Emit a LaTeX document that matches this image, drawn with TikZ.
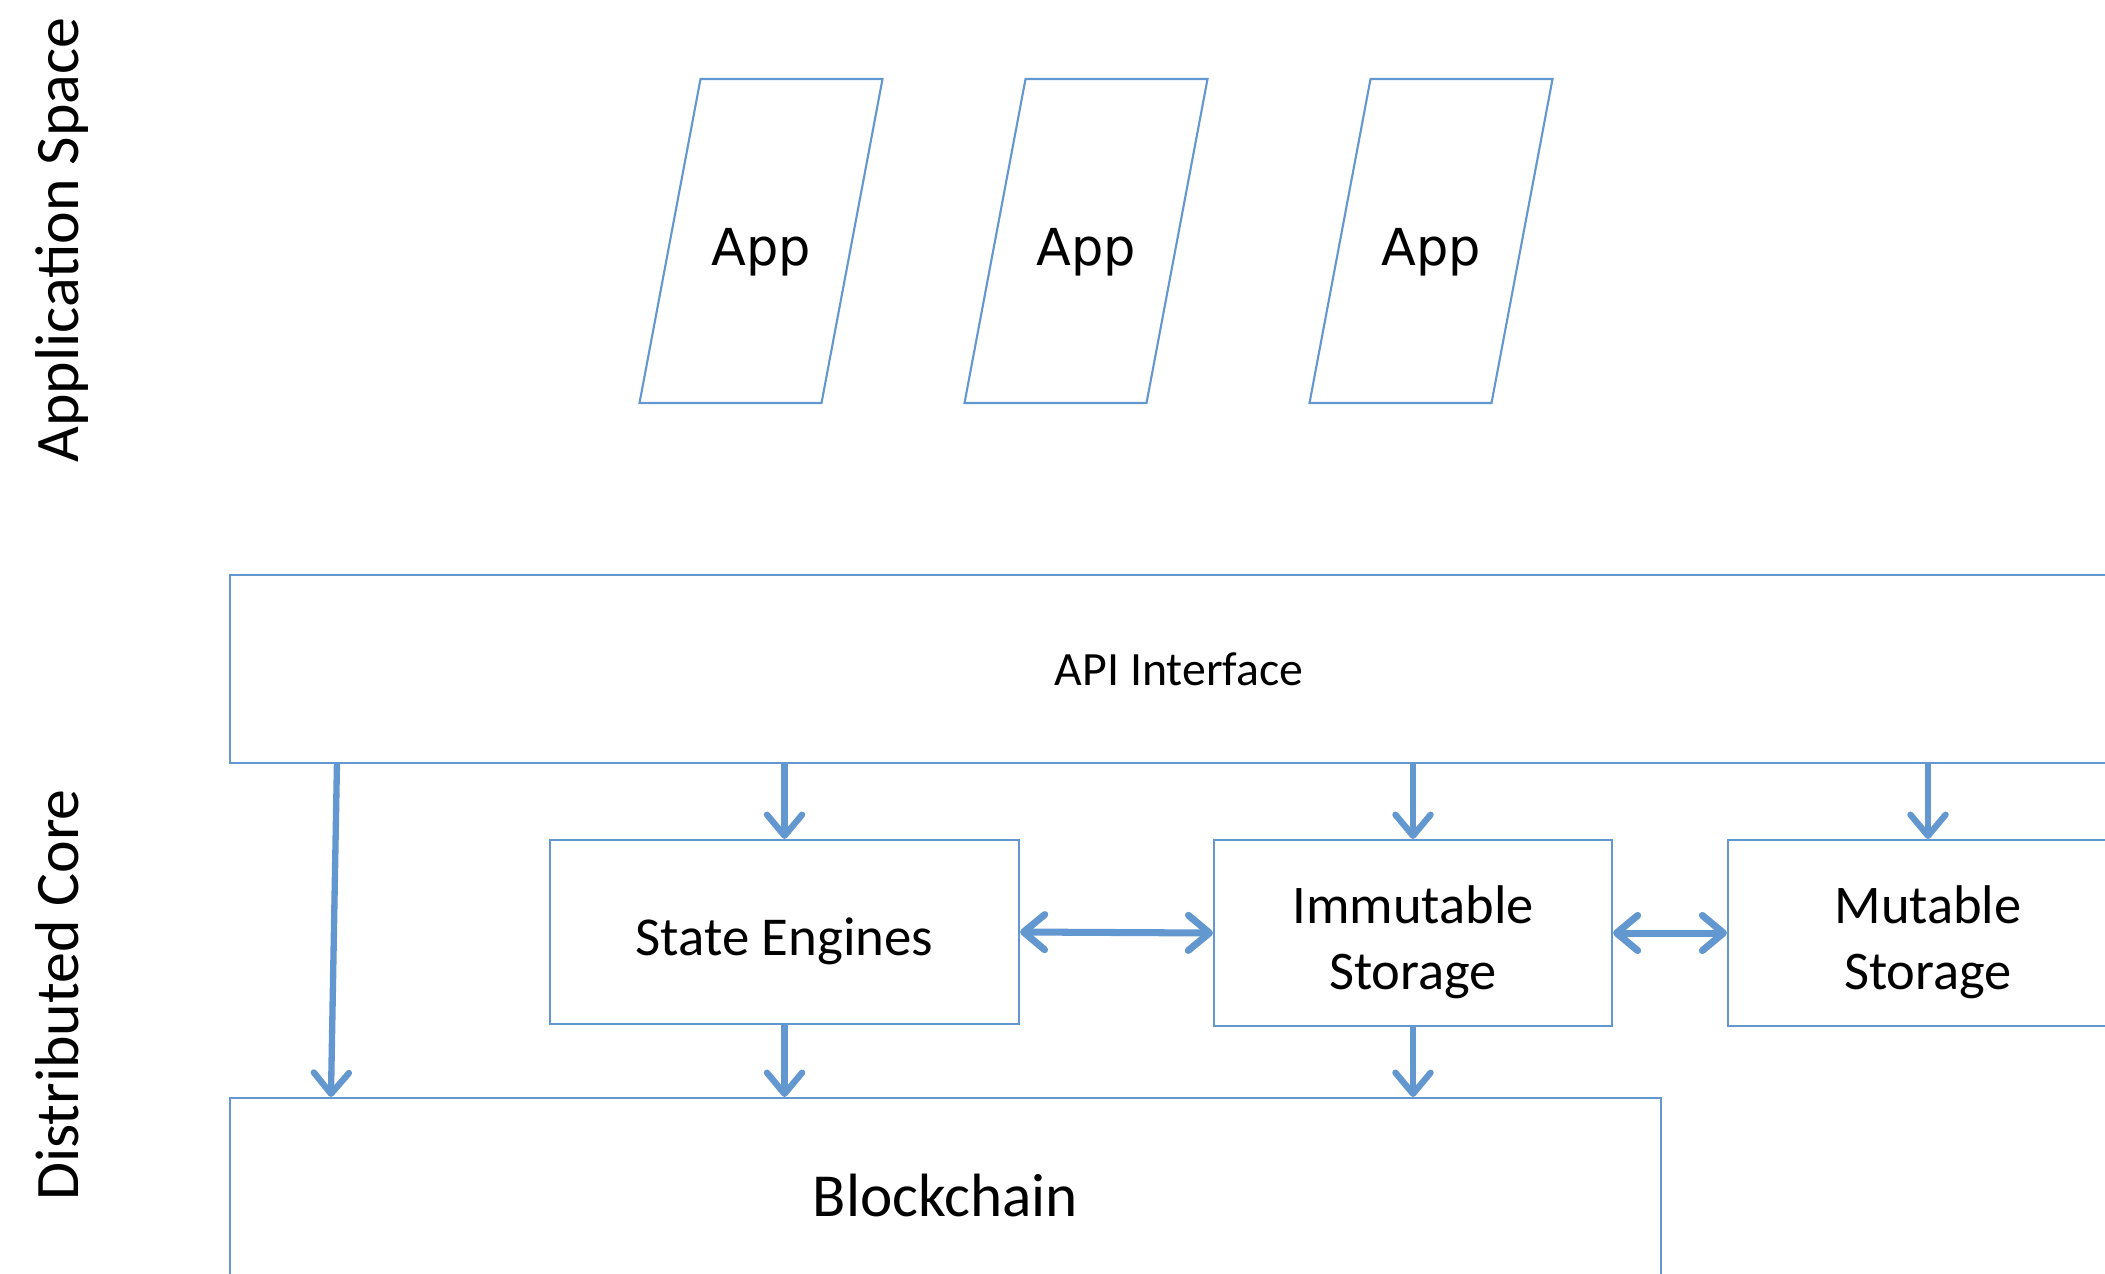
\documentclass[tikz,border=0pt]{standalone}
\usepackage{fontspec}
\setmainfont{Carlito}
\newfontfamily\appfont{DejaVu Sans}
\usepackage{xcolor}
\definecolor{lineColor}{HTML}{6397CF}
\usetikzlibrary{positioning, arrows.meta}

\tikzset{
  layerbox/.style={draw=lineColor, line width=0.6pt, rectangle, inner sep=0pt, align=center},
  boxtext/.style={align=center, inner sep=0pt, font=\fontsize{15.5}{18.7}\selectfont},
  flowarrow/.style={draw=lineColor, line width=1.8pt, -{Straight Barb[round, length=6pt, width=10pt]}},
  linkarrow/.style={draw=lineColor, line width=2pt, {Straight Barb[round, length=6pt, width=10pt]}-{Straight Barb[round, length=6pt, width=10pt]}},
  sidelabel/.style={rotate=90, inner sep=0pt, font=\fontsize{17.6}{20}\selectfont}
}

\begin{document}
\begin{tikzpicture}
  \clip (0,0) rectangle (21.05,-12.73);

  % side labels
  \node[sidelabel] (appspace) at (0.62,-2.40) {Application Space};
  \node[sidelabel] (core) at (0.57,-9.95) {Distributed Core};

  % apps
  \foreach \name/\x in {appA/7.61, appB/10.86, appC/14.31} {
    \node[font=\appfont\fontsize{14.5}{17}\selectfont] (\name) at (\x,-2.52) {App};
    \draw[lineColor, line width=0.6pt]
      ([shift={(-0.605,1.73)}]\name.center) -- ([shift={(1.215,1.73)}]\name.center)
      -- ([shift={(0.605,-1.51)}]\name.center) -- ([shift={(-1.215,-1.51)}]\name.center) -- cycle;
  }

  % core layers
  \node[layerbox, minimum width=18.98cm, minimum height=1.88cm, font=\fontsize{13.6}{16}\selectfont] (api) at (11.79,-6.69) {API Interface};
  \node[layerbox, minimum width=4.69cm, minimum height=1.84cm] (state) at (7.845,-9.32) {};
  \node[layerbox, minimum width=3.98cm, minimum height=1.86cm] (immut) at (14.13,-9.33) {};
  \node[layerbox, minimum width=4.00cm, minimum height=1.86cm] (mut) at (19.28,-9.33) {};
  \node[layerbox, minimum width=14.31cm, minimum height=1.94cm, font=\fontsize{17.4}{20}\selectfont] (chain) at (9.455,-11.95) {Blockchain};

  \node[boxtext, font=\fontsize{15.6}{18.7}\selectfont] (stateText) at ([yshift=-0.09cm]state.center) {State Engines};
  \node[boxtext] (immutText) at ([yshift=-0.09cm]immut.center) {Immutable\\Storage};
  \node[boxtext] (mutText) at ([yshift=-0.09cm]mut.center) {Mutable\\Storage};

  % connectors
  \draw[flowarrow] ([xshift=1.08cm]api.south west) -- ([xshift=1.02cm]chain.north west);
  \draw[flowarrow] (api.south -| state.north) -- (state.north);
  \draw[flowarrow] (api.south -| immut.north) -- (immut.north);
  \draw[flowarrow] (api.south -| mut.north) -- (mut.north);
  \draw[flowarrow] (state.south) -- (state.south |- chain.north);
  \draw[flowarrow] (immut.south) -- (immut.south |- chain.north);
  \draw[linkarrow] (state.east) -- (immut.west);
  \draw[linkarrow] (immut.east) -- (mut.west);
\end{tikzpicture}
\end{document}
